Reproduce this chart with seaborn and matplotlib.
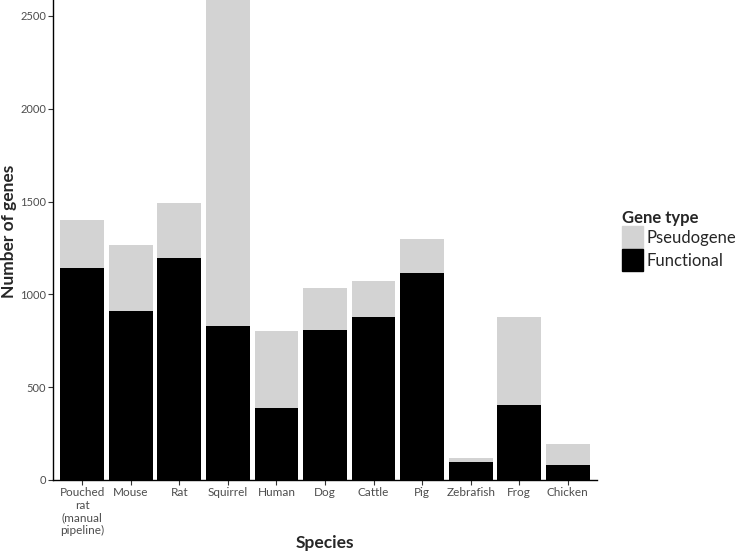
import pandas as pd
import matplotlib.pyplot as plt
import matplotlib.patches as mpatches
import seaborn as sns

species = ['Pouched\nrat\n(manual\npipeline)', 'Mouse', 'Rat', 'Squirrel', 'Human',
           'Dog', 'Cattle', 'Pig', 'Zebrafish', 'Frog', 'Chicken']
functional = [1142, 911, 1196, 830, 388, 808, 878, 1115, 97, 404, 81]
pseudogene = [260, 355, 296, 1800, 415, 226, 194, 183, 21, 474, 113]

df = pd.DataFrame({'species': species, 'functional': functional, 'pseudogene': pseudogene})
df['total'] = df['functional'] + df['pseudogene']

sns.set_style('white')
plt.rcParams['font.family'] = ['Lato', 'DejaVu Sans']

fig = plt.figure(figsize=(7.37, 5.55), dpi=100)
ax = fig.add_axes([53 / 737, 75 / 555, 544 / 737, 480 / 555])

sns.barplot(data=df, x='species', y='total', color='#d3d3d3', width=0.9,
            saturation=1, linewidth=0, ax=ax)
sns.barplot(data=df, x='species', y='functional', color='black', width=0.9,
            saturation=1, linewidth=0, ax=ax)

ax.set_xlim(-0.6, len(species) - 0.4)
ax.set_ylim(0, 2586)
ax.set_yticks([0, 500, 1000, 1500, 2000, 2500])
sns.despine(ax=ax)
for side in ['left', 'bottom']:
    ax.spines[side].set_color('black')
    ax.spines[side].set_linewidth(1.0)
ax.tick_params(axis='both', which='both', length=3.5, width=0.8, color='#333333',
               labelsize=8.5, labelcolor='#4d4d4d', bottom=True, left=True, pad=1.5)
ax.tick_params(axis='y', labelsize=8)
ax.set_xlabel('Species', fontsize=12.5, fontweight='bold')
ax.set_ylabel('Number of genes', fontsize=12.5, fontweight='bold')
ax.xaxis.set_label_coords(0.5, -0.115)
ax.yaxis.set_label_coords(-0.066, 0.517)

handles = [mpatches.Patch(color='#d3d3d3', label='Pseudogene'),
           mpatches.Patch(color='black', label='Functional')]
leg = fig.legend(handles=handles, title='Gene type', loc='upper left',
                 bbox_to_anchor=(615 / 737, 1 - 203 / 555), frameon=False,
                 fontsize=12, handlelength=1.25, handleheight=1.65,
                 handletextpad=0.25, labelspacing=0.05, borderaxespad=0)
leg.get_title().set_fontweight('bold')
leg.get_title().set_fontsize(12)
leg._legend_box.align = 'left'

fig.savefig('out.png', dpi=100)
